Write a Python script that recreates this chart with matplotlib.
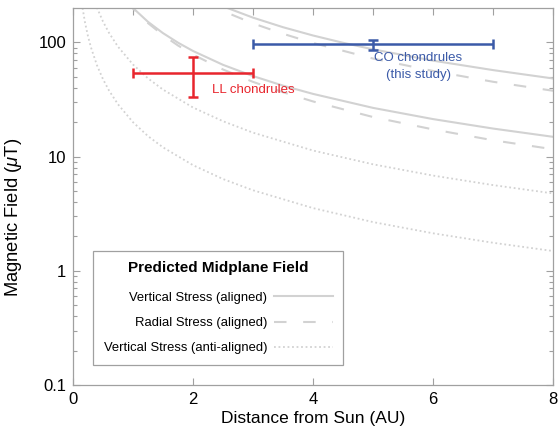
import matplotlib
matplotlib.use('Agg')
import matplotlib.pyplot as plt
from matplotlib.ticker import FixedLocator, NullFormatter, FixedFormatter

plt.rcParams['font.family'] = ['Liberation Sans', 'DejaVu Sans']
plt.rcParams['mathtext.fontset'] = 'custom'
plt.rcParams['mathtext.rm'] = 'Liberation Sans'
plt.rcParams['mathtext.it'] = 'Liberation Sans:italic'

# ---- data ----
# Vertical stress (aligned), two accretion rates
vs_hi_x = [2.3, 2.5, 3.0, 3.5, 4.0, 4.5, 5.0, 6.0, 7.0, 8.0]
vs_hi_y = [229, 206.8, 164.7, 135.8, 114.9, 99.2, 86.9, 69.2, 57.2, 48.3]
vs_lo_x = [0.9, 1.0, 1.25, 1.5, 1.75, 2.0, 2.5, 3.0, 3.5, 4.0, 5.0, 6.0, 7.0, 8.0]
vs_lo_y = [228, 200, 151.3, 120.5, 99.4, 84.1, 63.6, 50.7, 41.8, 35.4, 26.7, 21.3, 17.6, 14.9]
# Radial stress (aligned)
rs_hi_x = [2.2, 2.5, 3.0, 3.5, 4.0, 5.0, 6.0, 7.0, 8.0]
rs_hi_y = [224, 188, 146.6, 119, 98.8, 72.2, 56.2, 45.2, 37.7]
rs_lo_x = [0.9, 1.0, 1.25, 1.5, 1.75, 2.0, 2.5, 3.0, 3.5, 4.0, 5.0, 6.0, 7.0, 8.0]
rs_lo_y = [226, 198, 147.5, 115.7, 93.9, 78.2, 57.9, 45.1, 36.6, 30.4, 22.2, 17.3, 13.9, 11.6]
# Vertical stress (anti-aligned)
va_hi_x = [0.3, 0.35, 0.4, 0.5, 0.6, 0.75, 1.0, 1.25, 1.5, 2.0, 2.5, 3.0, 4.0, 5.0, 6.0, 7.0, 8.0]
va_hi_y = [288, 237.8, 201.2, 152.2, 121.2, 91.7, 64, 48.4, 38.6, 26.9, 20.4, 16.2, 11.3, 8.56, 6.82, 5.63, 4.76]
va_lo_x = [0.12, 0.15, 0.2, 0.25, 0.3, 0.4, 0.5, 0.6, 0.75, 1.0, 1.25, 1.5, 2.0, 2.5, 3.0, 4.0, 5.0, 6.0, 7.0, 8.0]
va_lo_y = [283, 214, 149.5, 113.1, 90.1, 62.9, 47.6, 37.9, 28.7, 20, 15.1, 12.05, 8.41, 6.36, 5.07, 3.54, 2.67, 2.13, 1.76, 1.49]

# Paleomagnetic measurements
ll_x, ll_xerr, ll_y, ll_yerr = 2.0, 1.0, 54, 21
co_x, co_xerr, co_y, co_yerr_lo, co_yerr_hi = 5.0, 2.0, 96, 10, 9

legend_labels = ['Vertical Stress (aligned)', 'Radial Stress (aligned)',
                 'Vertical Stress (anti-aligned)']
ytick_vals = [0.1, 1, 10, 100]
ytick_labels = ['0.1', '1', '10', '100']

# ---- figure ----
W, H = 558, 436
fig = plt.figure(figsize=(W / 100, H / 100), dpi=100)
ax = fig.add_axes([73 / W, 1 - 385 / H, 480 / W, 377 / H])

gray = '#d2d2d2'
lw = 1.5
l1, = ax.plot(vs_hi_x, vs_hi_y, color=gray, lw=lw)
ax.plot(vs_lo_x, vs_lo_y, color=gray, lw=lw)
l2, = ax.plot(rs_hi_x, rs_hi_y, color=gray, lw=lw, linestyle=(0, (6, 8)))
ax.plot(rs_lo_x, rs_lo_y, color=gray, lw=lw, linestyle=(0, (6, 8)))
l3, = ax.plot(va_hi_x, va_hi_y, color=gray, lw=1.3, linestyle=(0, (1, 1.5)))
ax.plot(va_lo_x, va_lo_y, color=gray, lw=1.3, linestyle=(0, (1, 1.5)))

red = '#e8252d'
blue = '#3b5aa8'
ax.errorbar([ll_x], [ll_y], xerr=[[ll_xerr], [ll_xerr]], yerr=[[ll_yerr], [ll_yerr]],
            color=red, lw=1.8, capsize=3.5, capthick=1.8, zorder=5)
ax.errorbar([co_x], [co_y], xerr=[[co_xerr], [co_xerr]], yerr=[[co_yerr_lo], [co_yerr_hi]],
            color=blue, lw=1.8, capsize=3.5, capthick=1.8, zorder=5)

ax.text(2.31, 38.2, 'LL chondrules', color=red, fontsize=9.5, va='center', ha='left')
ax.text(5.75, 61.2, 'CO chondrules\n(this study)', color=blue, fontsize=9.5,
        va='center', ha='center', linespacing=1.5)

ax.set_yscale('log')
ax.set_xlim(0, 8)
ax.set_ylim(0.1, 200)

ax.yaxis.set_major_locator(FixedLocator(ytick_vals))
ax.yaxis.set_major_formatter(FixedFormatter(ytick_labels))
minors = [m * 10.0 ** e for e in range(-1, 3) for m in range(2, 10) if m * 10.0 ** e < 200]
ax.yaxis.set_minor_locator(FixedLocator(minors))
ax.yaxis.set_minor_formatter(NullFormatter())
ax.xaxis.set_major_locator(FixedLocator([0, 2, 4, 6, 8]))
ax.xaxis.set_minor_locator(FixedLocator([1, 3, 5, 7]))

frame = '#a0a0a0'
for s in ax.spines.values():
    s.set_color(frame)
    s.set_linewidth(0.9)
ax.tick_params(which='both', direction='in', color=frame, labelsize=12,
               top=True, right=True)
ax.tick_params(which='major', length=5, width=0.8, pad=5)
ax.tick_params(which='minor', length=3, width=0.8)
ax.tick_params(axis='x', which='minor', bottom=False, top=True, length=5)

ax.set_xlabel('Distance from Sun (AU)', fontsize=12.5, labelpad=3)
ax.set_ylabel(r'Magnetic Field ($\mu$T)', fontsize=13.2)
ax.yaxis.set_label_coords(-0.102, 0.445)

leg = ax.legend([l1, l2, l3], legend_labels, loc='upper left',
                bbox_to_anchor=(0.0423, 0.356), borderaxespad=0,
                markerfirst=False,
                title='Predicted Midplane Field',
                title_fontproperties={'weight': 'bold', 'size': 11},
                fontsize=9.4, frameon=True, fancybox=False, framealpha=1,
                edgecolor=frame, handlelength=4.5, handletextpad=0.5,
                labelspacing=1.0, borderpad=0.8, alignment='center')
leg.get_frame().set_linewidth(0.9)
leg._legend_box.sep = 12

fig.savefig('out.png', dpi=100)
